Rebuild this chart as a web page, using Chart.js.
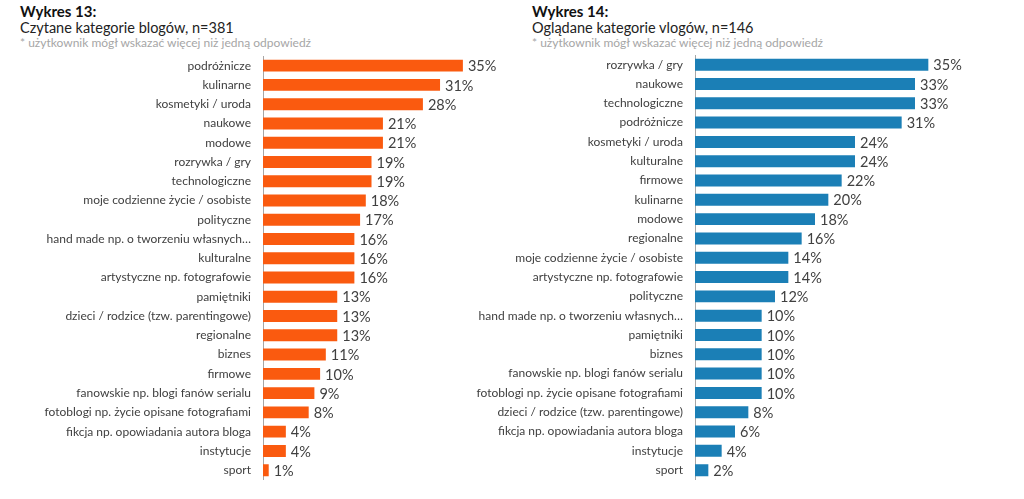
<!DOCTYPE html>
<html>
<head>
<meta charset="utf-8">
<script src="https://cdn.jsdelivr.net/npm/chart.js@4.4.1/dist/chart.umd.min.js"></script>
<style>
  html, body { margin:0; padding:0; background:#fff; width:1024px; height:499px; overflow:hidden; }
  .t { position:absolute; font-family:"Segoe UI", Lato, "Open Sans", sans-serif; white-space:nowrap; }
  .h1 { font-weight:bold; font-size:15px; color:#111; }
  .h2 { font-size:14.5px; color:#222; }
  .note { font-size:12px; color:#a6a6a6; }
  .box { position:absolute; top:0; }
</style>
</head>
<body>
<div class="t h1" style="left:20px; top:2px;">Wykres 13:</div>
<div class="t h2" style="left:20px; top:19px;">Czytane kategorie blogów, n=381</div>
<div class="t note" style="left:20px; top:35px;">* użytkownik mógł wskazać więcej niż jedną odpowiedź</div>
<div class="t h1" style="left:532px; top:2px;">Wykres 14:</div>
<div class="t h2" style="left:532px; top:19px;">Oglądane kategorie vlogów, n=146</div>
<div class="t note" style="left:532px; top:35px;">* użytkownik mógł wskazać więcej niż jedną odpowiedź</div>

<div class="box" style="left:0px;"><canvas id="c1" width="520" height="499"></canvas></div>
<div class="box" style="left:420px;"><canvas id="c2" width="604" height="499"></canvas></div>

<script>
const blogCategories = [
  "podróżnicze", "kulinarne", "kosmetyki / uroda", "naukowe", "modowe", "rozrywka / gry",
  "technologiczne", "moje codzienne życie / osobiste", "polityczne",
  "hand made np. o tworzeniu własnych…", "kulturalne", "artystyczne np. fotografowie",
  "pamiętniki", "dzieci / rodzice (tzw. parentingowe)", "regionalne", "biznes", "firmowe",
  "fanowskie np. blogi fanów serialu", "fotoblogi np. życie opisane fotografiami",
  "fikcja np. opowiadania autora bloga", "instytucje", "sport"
];
const blogValues = [35, 31, 28, 21, 21, 19, 19, 18, 17, 16, 16, 16, 13, 13, 13, 11, 10, 9, 8, 4, 4, 1];

const vlogCategories = [
  "rozrywka / gry", "naukowe", "technologiczne", "podróżnicze", "kosmetyki / uroda",
  "kulturalne", "firmowe", "kulinarne", "modowe", "regionalne",
  "moje codzienne życie / osobiste", "artystyczne np. fotografowie", "polityczne",
  "hand made np. o tworzeniu własnych…", "pamiętniki", "biznes",
  "fanowskie np. blogi fanów serialu", "fotoblogi np. życie opisane fotografiami",
  "dzieci / rodzice (tzw. parentingowe)", "fikcja np. opowiadania autora bloga",
  "instytucje", "sport"
];
const vlogValues = [35, 33, 33, 31, 24, 24, 22, 20, 18, 16, 14, 14, 12, 10, 10, 10, 10, 10, 8, 6, 4, 2];

const FONT = '"Segoe UI", Lato, "Open Sans", sans-serif';

const valueLabels = {
  id: 'valueLabels',
  afterDatasetsDraw(chart) {
    const ctx = chart.ctx;
    ctx.save();
    ctx.font = '14.5px ' + FONT;
    ctx.fillStyle = '#404040';
    ctx.textAlign = 'left';
    ctx.textBaseline = 'middle';
    chart.data.datasets.forEach((ds, i) => {
      chart.getDatasetMeta(i).data.forEach((bar, j) => {
        ctx.fillText(ds.data[j] + '%', bar.x + 5, bar.y + 1);
      });
    });
    ctx.restore();
  }
};

function makeChart(id, labels, values, color, axisWidth, pad) {
  return new Chart(document.getElementById(id), {
    type: 'bar',
    data: { labels: labels, datasets: [{ data: values, backgroundColor: color, borderWidth: 0,
      categoryPercentage: 1, barPercentage: 0.62 }] },
    options: {
      indexAxis: 'y',
      responsive: false,
      animation: false,
      devicePixelRatio: 1,
      layout: { padding: pad },
      plugins: { legend: { display: false }, tooltip: { enabled: false } },
      scales: {
        x: { display: false, min: 0, max: 45 },
        y: {
          grid: { display: false, drawTicks: false },
          border: { display: true, color: '#a6a6a6', width: 1 },
          ticks: { color: '#404040', font: { family: FONT, size: 12 }, padding: 12, autoSkip: false },
          afterFit(scale) { scale.width = axisWidth; }
        }
      }
    },
    plugins: [valueLabels]
  });
}

makeChart('c1', blogCategories, blogValues, '#fa5a0f', 263, { top: 56, bottom: 12, left: 0, right: 0 });
makeChart('c2', vlogCategories, vlogValues, '#1b7fb6', 275, { top: 55, bottom: 18, left: 0, right: 29 });
</script>
</body>
</html>
